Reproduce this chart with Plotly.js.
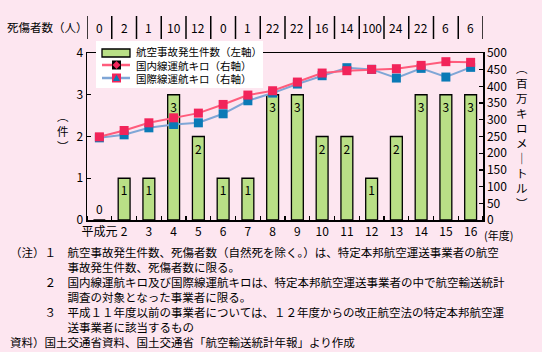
<!DOCTYPE html>
<html><head><meta charset="utf-8">
<script src="https://cdn.plot.ly/plotly-3.0.1.min.js"></script>
<style>html,body{margin:0;padding:0;background:#fde6f0;}#chart{width:542px;height:352px;}</style>
</head><body><div id="chart"></div>
<script>
const years = ['平成元','2','3','4','5','6','7','8','9','10','11','12','13','14','15','16'];
const accidents = [0,1,1,3,2,1,1,3,3,2,2,1,2,3,3,3];
const deaths = [0,2,1,10,12,0,1,22,22,16,14,100,24,22,6,6];
const domestic = [249,268,291,306,320,346,374,387,413,440,447,451,453,463,474,472];
const international = [246,255,276,286,291,318,357,380,407,432,456,451,425,454,428,457];
const seriesNames = ['航空事故発生件数（左軸）','国内線運航キロ（右軸）','国際線運航キロ（右軸）'];
const deathsLabel = '死傷者数（人）';
const yearUnit = '(年度)';
const leftTitle = ['︵','件','︶'];
const rightTitle = ['︵','百','万','キ','ロ','メ','｜','ト','ル','︶'];
const noteLines = [
  '（注）１　航空事故発生件数、死傷者数（自然死を除く。）は、特定本邦航空運送事業者の航空',
  '　　　　　事故発生件数、死傷者数に限る。',
  '　　　２　国内線運航キロ及び国際線運航キロは、特定本邦航空運送事業者の中で航空輸送統計',
  '　　　　　調査の対象となった事業者に限る。',
  '　　　３　平成１１年度以前の事業者については、１２年度からの改正航空法の特定本邦航空運',
  '　　　　　送事業者に該当するもの',
  '資料）国土交通省資料、国土交通省「航空輸送統計年報」より作成'
];

const W = 542, H = 352, L = 87, R = 483, T = 53, B = 220;
const fx = p => (p - L) / (R - L);
const fy = p => (B - p) / (B - T);
const P = (x, y) => fx(x) + ',' + fy(y);
const FONT = '"Noto Sans CJK JP", "Noto Sans", sans-serif';
const idx = years.map((_, i) => i);
const C = {bg:'#fde6f0', bar:'#b9df86', redLine:'#ff5c7c', red:'#f2245a', blueLine:'#7fa6d6', blue:'#0a7ab6'};

const traces = [
  {type:'bar', x: idx, y: accidents, name: seriesNames[0], yaxis:'y',
   marker:{color:C.bar, line:{color:'#000', width:1.3}}, width:0.48,
   text: accidents.map(String), textposition: accidents.map(v => v === 0 ? 'outside' : 'inside'),
   insidetextanchor:'end', constraintext:'none', cliponaxis:false,
   textfont:{family:FONT, size:12, color:'#000'}},
  {type:'scatter', mode:'lines+markers', x: idx, y: international, name: seriesNames[2], yaxis:'y2',
   line:{color:C.blueLine, width:2}, marker:{symbol:'square', size:9, color:C.blue}},
  {type:'scatter', mode:'lines+markers', x: idx, y: domestic, name: seriesNames[1], yaxis:'y2',
   line:{color:C.redLine, width:2}, marker:{symbol:'square', size:9, color:C.red}}
];

const shapes = [];
for (let i = 0; i <= years.length; i++) {
  shapes.push({type:'line', xref:'x', yref:'paper', x0:i-0.5, x1:i-0.5, y0:fy(39), y1:fy(16), line:{color:'#000', width:1.5}});
}
// legend box (drawn as shapes + one text block)
const pr = (x0, y0, x1, y1, fill, lc, lw) => shapes.push({type:'rect', xref:'paper', yref:'paper', x0:fx(x0), x1:fx(x1), y0:fy(y1), y1:fy(y0), fillcolor:fill, line:{color:lc || fill, width: lw || 0}});
const pl = (x0, y0, x1, y1, col, w) => shapes.push({type:'line', xref:'paper', yref:'paper', x0:fx(x0), x1:fx(x1), y0:fy(y0), y1:fy(y1), line:{color:col, width:w}});
const pp = (d, fill) => shapes.push({type:'path', xref:'paper', yref:'paper', path:d, fillcolor:fill, line:{width:0}});
pr(96, 41, 263, 88, '#ffffff');
pr(102, 49, 130, 57, C.bar, '#000', 1.3);
pl(102, 65, 130, 65, C.redLine, 2.5);
pr(112, 60.5, 121, 69.5, '#000');
pp('M' + P(116.5, 61) + ' L' + P(120.5, 65) + ' L' + P(116.5, 69) + ' L' + P(112.5, 65) + ' Z', C.red);
pl(102, 78, 130, 78, C.blueLine, 2.5);
pr(112, 73.5, 121, 82.5, C.red);
pp('M' + P(116.5, 74.5) + ' L' + P(120, 81) + ' L' + P(113, 81) + ' Z', C.blue);

const annotations = [];
const ann = (text, x, y, xanchor, size, align) => annotations.push({text, xref:'paper', yref:'paper', x:fx(x), y:fy(y),
  xanchor: xanchor || 'center', yanchor:'middle', align: align || 'center', showarrow:false, font:{family:FONT, size: size || 12, color:'#000'}});
ann(seriesNames.join('<br>'), 134, 65, 'left', 10.5, 'left');
ann(deathsLabel, 5, 27, 'left', 11.5);
deaths.forEach((d, i) => annotations.push({text:String(d), xref:'x', yref:'paper', x:i, y:fy(27), xanchor:'center', yanchor:'middle', showarrow:false, font:{family:FONT, size:12, color:'#000'}}));
ann(yearUnit, 498, 235.5, 'center', 11);
ann(leftTitle.join('<br>'), 63, 131, 'center', 11.5);
ann(rightTitle.join('<br>'), 522, 135, 'center', 11.5);
ann(noteLines.join('<br>'), 8, 297, 'left', 11.5, 'left');

const layout = {
  width: W, height: H,
  margin:{l:L, r:W-R, t:T, b:H-B},
  paper_bgcolor:C.bg, plot_bgcolor:C.bg,
  font:{family:FONT, size:12, color:'#000'},
  showlegend:false,
  xaxis:{range:[-0.5, 15.5], tickmode:'array', tickvals: idx, ticktext: years, ticks:'',
         showline:true, mirror:true, linecolor:'#000', linewidth:1.5, showgrid:false, zeroline:false,
         tickfont:{family:FONT, size:12},
         minor:{tickmode:'array', tickvals: idx.concat([years.length]).map(i => i - 0.5), ticks:'inside', ticklen:4, tickcolor:'#000', tickwidth:1.3, showgrid:false}},
  yaxis:{range:[0,4], dtick:1, ticks:'inside', ticklen:4, tickcolor:'#000', tickwidth:1.3, showline:true, linecolor:'#000', linewidth:1.5,
         showgrid:false, zeroline:false, tickfont:{family:FONT, size:12}},
  yaxis2:{range:[0,500], dtick:50, overlaying:'y', side:'right', ticks:'inside', ticklen:4, tickcolor:'#000', tickwidth:1.3,
          showline:true, linecolor:'#000', linewidth:1.5, showgrid:false, zeroline:false, tickfont:{family:FONT, size:12}},
  shapes, annotations,
  bargap:0.5
};
Plotly.newPlot('chart', traces, layout, {staticPlot:true, displayModeBar:false});
</script></body></html>
